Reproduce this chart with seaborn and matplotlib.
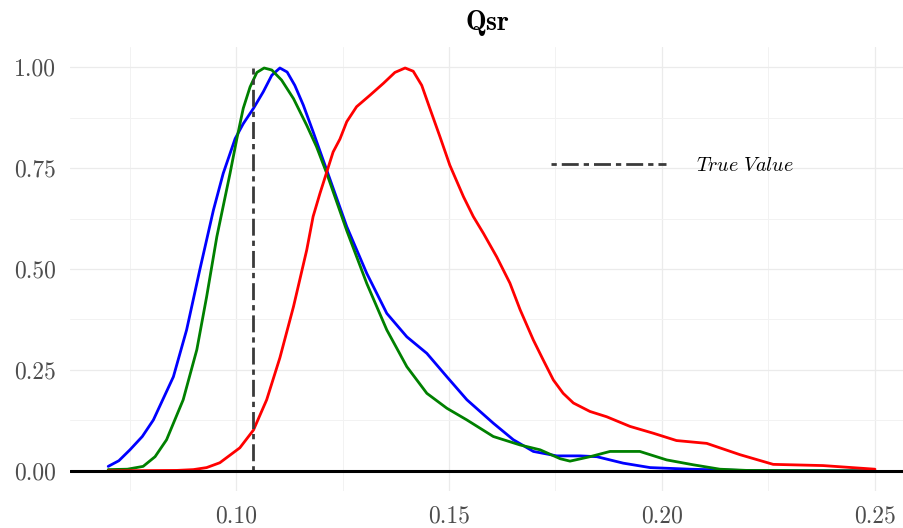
import pandas as pd
import matplotlib.pyplot as plt
from matplotlib.lines import Line2D
from matplotlib.ticker import MultipleLocator
import seaborn as sns

# 数据 (归一化密度, 从图上读取)
blue_x = [0.0700, 0.0725, 0.0751, 0.0780, 0.0806, 0.0853, 0.0884, 0.0915, 0.0947, 0.0970,
          0.0998, 0.1017, 0.1041, 0.1064, 0.1084, 0.1103, 0.1120, 0.1138, 0.1158, 0.1181,
          0.1213, 0.1260, 0.1307, 0.1354, 0.1401, 0.1448, 0.1495, 0.1542, 0.1604, 0.1651,
          0.1698, 0.1753, 0.1808, 0.1847, 0.1909, 0.1972, 0.2066, 0.2183, 0.2500]
blue_y = [0.011, 0.025, 0.052, 0.085, 0.126, 0.233, 0.349, 0.498, 0.646, 0.737,
          0.823, 0.860, 0.898, 0.939, 0.980, 0.998, 0.988, 0.955, 0.906, 0.840,
          0.745, 0.605, 0.489, 0.390, 0.332, 0.291, 0.233, 0.176, 0.118, 0.077,
          0.048, 0.037, 0.037, 0.035, 0.019, 0.008, 0.004, 0.001, 0.000]

green_x = [0.0700, 0.0745, 0.0782, 0.0810, 0.0837, 0.0876, 0.0908, 0.0931, 0.0955, 0.0986,
           0.1002, 0.1017, 0.1033, 0.1049, 0.1066, 0.1084, 0.1107, 0.1135, 0.1166, 0.1189,
           0.1213, 0.1260, 0.1307, 0.1354, 0.1401, 0.1448, 0.1495, 0.1542, 0.1604, 0.1667,
           0.1714, 0.1761, 0.1784, 0.1831, 0.1878, 0.1948, 0.2011, 0.2073, 0.2136, 0.2199,
           0.2500]
green_y = [0.003, 0.004, 0.011, 0.035, 0.077, 0.176, 0.300, 0.431, 0.580, 0.737,
           0.823, 0.898, 0.951, 0.987, 0.998, 0.993, 0.968, 0.922, 0.856, 0.803,
           0.737, 0.595, 0.464, 0.349, 0.258, 0.192, 0.155, 0.126, 0.085, 0.064,
           0.052, 0.030, 0.024, 0.035, 0.048, 0.048, 0.027, 0.015, 0.004, 0.001,
           0.000]

red_x = [0.0700, 0.0861, 0.0900, 0.0931, 0.0962, 0.1009, 0.1041, 0.1072, 0.1103, 0.1135,
         0.1166, 0.1181, 0.1197, 0.1228, 0.1244, 0.1260, 0.1283, 0.1315, 0.1346, 0.1373,
         0.1397, 0.1416, 0.1436, 0.1455, 0.1479, 0.1502, 0.1534, 0.1557, 0.1581, 0.1612,
         0.1643, 0.1667, 0.1698, 0.1721, 0.1745, 0.1768, 0.1792, 0.1831, 0.1870, 0.1925,
         0.1980, 0.2034, 0.2105, 0.2183, 0.2261, 0.2378, 0.2500]
red_y = [0.000, 0.001, 0.003, 0.008, 0.020, 0.057, 0.101, 0.176, 0.280, 0.407,
         0.547, 0.630, 0.687, 0.790, 0.822, 0.865, 0.902, 0.931, 0.960, 0.987,
         0.998, 0.990, 0.955, 0.898, 0.827, 0.757, 0.679, 0.630, 0.588, 0.530,
         0.465, 0.399, 0.324, 0.275, 0.225, 0.192, 0.168, 0.147, 0.134, 0.110,
         0.093, 0.075, 0.068, 0.040, 0.016, 0.013, 0.004]

true_value = 0.104
series_colors = {'blue': 'blue', 'green': 'green', 'red': 'red'}

df = pd.concat([
    pd.DataFrame({'x': blue_x, 'density': blue_y, 'series': 'blue'}),
    pd.DataFrame({'x': green_x, 'density': green_y, 'series': 'green'}),
    pd.DataFrame({'x': red_x, 'density': red_y, 'series': 'red'}),
], ignore_index=True)

# 样式 (类似 ggplot theme_minimal)
sns.set_theme(style='whitegrid')
plt.rcParams['font.family'] = ['cmr10', 'DejaVu Serif']
plt.rcParams['mathtext.fontset'] = 'cm'
plt.rcParams['axes.formatter.use_mathtext'] = True

fig = plt.figure(figsize=(9.04, 5.28), dpi=100)
ax = fig.add_axes([70 / 904, 37 / 528, 834 / 904, 444 / 528])

sns.lineplot(data=df, x='x', y='density', hue='series', palette=series_colors,
             estimator=None, linewidth=2.0, legend=False, ax=ax)

dash = (0, (1.9, 1.8, 6.1, 1.8))
ax.vlines(true_value, 0, df['density'].max(), colors='#3a3a3a', linewidth=2.0,
          linestyles=[dash], zorder=3)
ax.axhline(0, color='black', linewidth=2.2, zorder=4)

# 坐标轴
ax.set_xlim(0.06103, 0.25681)
ax.set_ylim(-0.05, 1.05)
ax.xaxis.set_major_locator(MultipleLocator(0.05))
ax.xaxis.set_minor_locator(MultipleLocator(0.025))
ax.yaxis.set_major_locator(MultipleLocator(0.25))
ax.yaxis.set_minor_locator(MultipleLocator(0.125))
ax.xaxis.set_major_formatter(plt.FuncFormatter(lambda v, p: f'{v:.2f}'))
ax.yaxis.set_major_formatter(plt.FuncFormatter(lambda v, p: f'{v:.2f}'))
ax.grid(which='major', color='#ebebeb', linewidth=0.9)
ax.grid(which='minor', color='#f2f2f2', linewidth=0.7)
ax.tick_params(which='both', length=0, labelsize=17, labelcolor='#4d4d4d')
ax.tick_params(axis='x', pad=10)
ax.tick_params(axis='y', pad=10)
for s in ax.spines.values():
    s.set_visible(False)
ax.set_xlabel('')
ax.set_ylabel('')
ax.set_facecolor('white')

ax.set_title(r'$\mathbf{Qsr}$', fontsize=20, pad=12, color='black')

handle = Line2D([], [], color='#3a3a3a', linewidth=2.0, linestyle=dash)
leg = ax.legend(handles=[handle], labels=[r'$True\ Value$'], loc='center left',
                bbox_to_anchor=(0.577, 0.732), frameon=False, fontsize=14.5,
                handlelength=5.7, handletextpad=1.5, borderpad=0, borderaxespad=0)
for t in leg.get_texts():
    t.set_color('black')

fig.savefig('out.png', dpi=100)
